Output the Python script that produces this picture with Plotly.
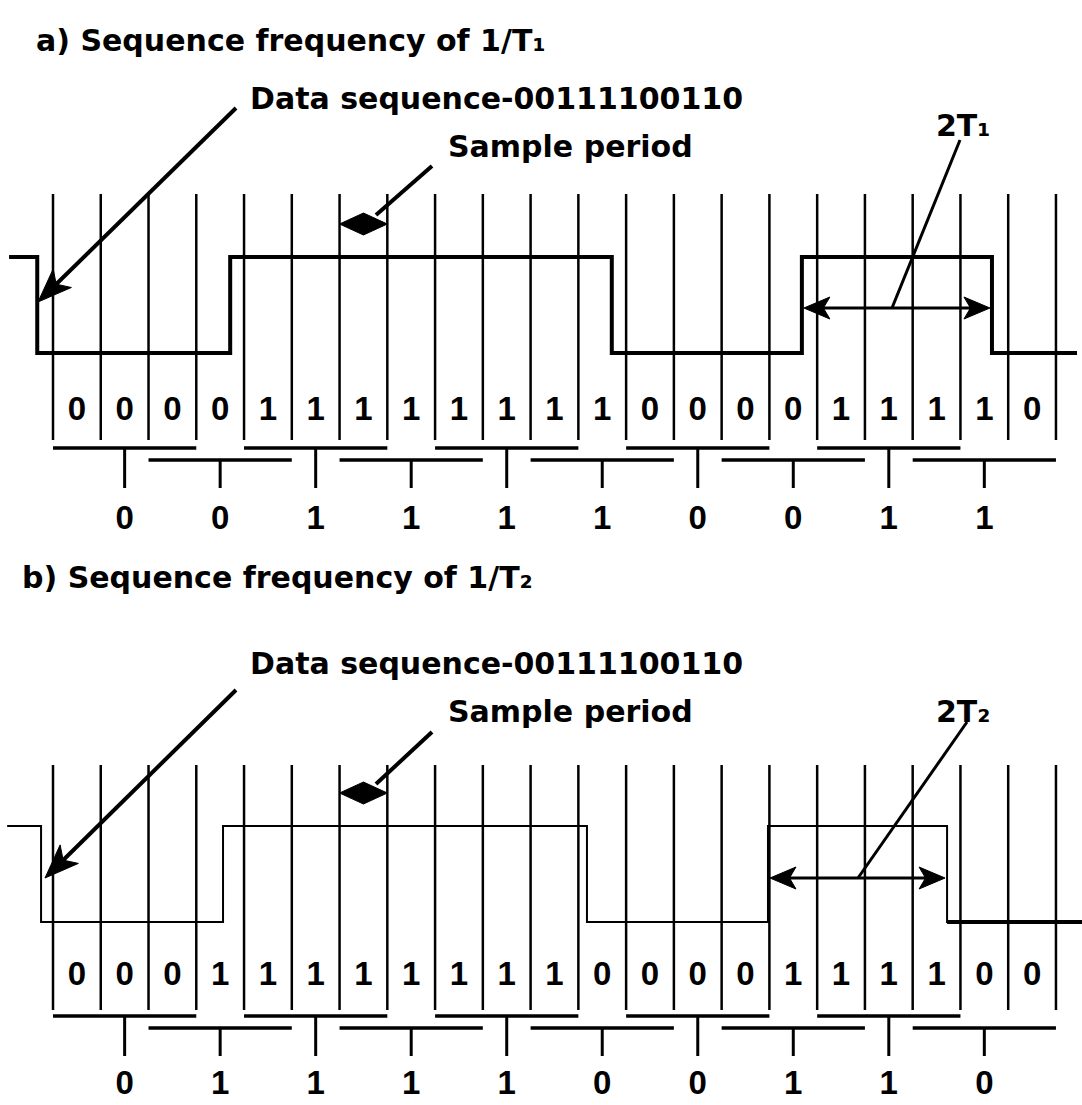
import math
import plotly.graph_objects as go

# ---- data -------------------------------------------------------------
# sample-period boundaries (vertical lines), in sample units
SAMPLE_EDGES = list(range(22))

# a) line signal at sequence frequency 1/T1
WAVE_A_EDGES = [-0.92, -0.33, 3.71, 11.70, 15.68, 19.66, 21.44]
WAVE_A_LEVELS = [1, 0, 1, 0, 1, 0]
SAMPLES_A = [0, 0, 0, 0, 1, 1, 1, 1, 1, 1, 1, 1, 0, 0, 0, 0, 1, 1, 1, 1, 0]
DECODED_A = [0, 0, 1, 1, 1, 1, 0, 0, 1, 1]

# b) line signal at sequence frequency 1/T2
WAVE_B_EDGES = [-0.96, -0.25, 3.56, 11.18, 14.97, 18.72, 21.55]
WAVE_B_LEVELS = [1, 0, 1, 0, 1, 0]
SAMPLES_B = [0, 0, 0, 1, 1, 1, 1, 1, 1, 1, 1, 0, 0, 0, 0, 1, 1, 1, 1, 0, 0]
DECODED_B = [0, 1, 1, 1, 1, 0, 0, 1, 1, 0]

# ---- layout constants ---------------------------------------------------
W, H = 1082, 1105
X0_PX, STEP_PX = 53.0, 47.76  # pixel of first sample boundary, pixels per sample
BLACK = "#000000"
TEXT_FONT = dict(family="DejaVu Sans", size=30, color=BLACK, weight="bold")
DIGIT_FONT = dict(family="Liberation Sans", size=33, color=BLACK, weight="bold")

PANELS = [
    dict(title="a) Sequence frequency of 1/T₁", title_x=36, title_y=43,
         label="2T₁", label_y=128, data_y=101, sample_y=149,
         edges=WAVE_A_EDGES, levels=WAVE_A_LEVELS, samples=SAMPLES_A, decoded=DECODED_A,
         high=257, low=353, wave_w=4, tail_w=4,
         grid_top=194, grid_bottom=440, digit_y=412,
         bar_hi=448, bar_lo=460, tick_bottom=488, decoded_y=521,
         data_tip=(38, 302), data_tail=(236, 108),
         sp_from=(432, 166), sp_to=(376, 215), diamond_y=224,
         span_y=308, leader_from=(892, 308), leader_to=(960, 140)),
    dict(title="b) Sequence frequency of 1/T₂", title_x=22, title_y=580,
         label="2T₂", label_y=714, data_y=666, sample_y=714,
         edges=WAVE_B_EDGES, levels=WAVE_B_LEVELS, samples=SAMPLES_B, decoded=DECODED_B,
         high=826, low=922, wave_w=2, tail_w=4,
         grid_top=765, grid_bottom=1010, digit_y=977,
         bar_hi=1016, bar_lo=1028, tick_bottom=1056, decoded_y=1086,
         data_tip=(45, 878), data_tail=(236, 690),
         sp_from=(432, 732), sp_to=(376, 784), diamond_y=793,
         span_y=878, leader_from=(858, 878), leader_to=(967, 722)),
]


def sx(px):
    """Pixel column -> sample units on the x axis."""
    return (px - X0_PX) / STEP_PX


def line(xs, ys, width):
    return go.Scatter(x=xs, y=ys, mode="lines", line=dict(color=BLACK, width=width),
                      hoverinfo="skip", showlegend=False)


def filled(xs, ys):
    return go.Scatter(x=xs, y=ys, mode="lines", fill="toself", fillcolor=BLACK,
                      line=dict(color=BLACK, width=1), hoverinfo="skip", showlegend=False)


def arrowhead(tip, tail, length, half):
    """Filled, slightly notched arrowhead at tip (pixel coords) pointing away from tail."""
    dx, dy = tip[0] - tail[0], tip[1] - tail[1]
    n = math.hypot(dx, dy)
    ux, uy = dx / n, dy / n
    px_, py_ = -uy, ux
    bx, by = tip[0] - ux * length, tip[1] - uy * length
    nx, ny = tip[0] - ux * length * 0.75, tip[1] - uy * length * 0.75
    pts = [tip, (bx + px_ * half, by + py_ * half), (nx, ny),
           (bx - px_ * half, by - py_ * half), tip]
    return filled([sx(p[0]) for p in pts], [p[1] for p in pts])


fig = go.Figure()

for p in PANELS:
    # sample-period grid
    gx, gy = [], []
    for e in SAMPLE_EDGES:
        gx += [e, e, None]
        gy += [p["grid_top"], p["grid_bottom"], None]
    fig.add_trace(line(gx, gy, 2.5))

    # waveform
    lev_px = [p["low"] - v * (p["low"] - p["high"]) for v in p["levels"]]
    fig.add_trace(go.Scatter(x=p["edges"], y=lev_px + [lev_px[-1]], mode="lines",
                             line=dict(color=BLACK, width=p["wave_w"], shape="hv"),
                             hoverinfo="skip", showlegend=False))
    fig.add_trace(line(p["edges"][-2:], [lev_px[-1], lev_px[-1]], p["tail_w"]))

    # sampled bits, one per sample cell
    fig.add_trace(go.Scatter(x=[e + 0.5 for e in SAMPLE_EDGES[:-1]],
                             y=[p["digit_y"]] * len(p["samples"]),
                             text=[str(b) for b in p["samples"]], mode="text",
                             textfont=DIGIT_FONT, hoverinfo="skip", showlegend=False))

    # majority-vote windows (3 samples each, staggered) and decoded bits
    bx, by, tx, ty, cx = [], [], [], [], []
    for i, bit in enumerate(p["decoded"]):
        c = SAMPLE_EDGES[1] + 0.5 + 2 * i
        yb = p["bar_hi"] if i % 2 == 0 else p["bar_lo"]
        bx += [c - 1.5, c + 1.5, None]
        by += [yb, yb, None]
        tx += [c, c, None]
        ty += [yb, p["tick_bottom"], None]
        cx.append(c)
    fig.add_trace(line(bx, by, 3.5))
    fig.add_trace(line(tx, ty, 3))
    fig.add_trace(go.Scatter(x=cx, y=[p["decoded_y"]] * len(cx),
                             text=[str(b) for b in p["decoded"]], mode="text",
                             textfont=DIGIT_FONT, hoverinfo="skip", showlegend=False))

    # "Sample period" marker: filled diamond spanning one sample cell
    d0, d1 = SAMPLE_EDGES[6], SAMPLE_EDGES[7]
    dm = (d0 + d1) / 2
    dy = p["diamond_y"]
    fig.add_trace(filled([d0, dm, d1, dm, d0], [dy, dy - 11, dy, dy + 11, dy]))
    fig.add_trace(line([sx(p["sp_from"][0]), sx(p["sp_to"][0])],
                       [p["sp_from"][1], p["sp_to"][1]], 4))

    # 2T leader
    fig.add_trace(line([sx(p["leader_from"][0]), sx(p["leader_to"][0])],
                       [p["leader_from"][1], p["leader_to"][1]], 3))

    # data-sequence arrow
    tip, tail = p["data_tip"], p["data_tail"]
    n = math.hypot(tip[0] - tail[0], tip[1] - tail[1])
    ux, uy = (tip[0] - tail[0]) / n, (tip[1] - tail[1]) / n
    fig.add_trace(line([sx(tail[0]), sx(tip[0] - ux * 20)], [tail[1], tip[1] - uy * 20], 4))
    fig.add_trace(arrowhead(tip, tail, 34, 13))

    # 2T double arrow across one high pulse
    x_start, x_end = p["edges"][4], p["edges"][5]
    ys = p["span_y"]
    fig.add_trace(line([x_start + 0.3, x_end - 0.3], [ys, ys], 3))
    px_start = X0_PX + x_start * STEP_PX
    px_end = X0_PX + x_end * STEP_PX
    fig.add_trace(arrowhead((px_start + 2, ys), (px_end, ys), 26, 11))
    fig.add_trace(arrowhead((px_end - 2, ys), (px_start, ys), 26, 11))

    # texts, left-anchored
    labels = [(p["title"], p["title_x"], p["title_y"]),
              ("Data sequence-00111100110", 250, p["data_y"]),
              ("Sample period", 448, p["sample_y"]),
              (p["label"], 936, p["label_y"])]
    fig.add_trace(go.Scatter(x=[sx(t[1]) for t in labels], y=[t[2] for t in labels],
                             text=[t[0] for t in labels], mode="text",
                             textposition="middle right", textfont=TEXT_FONT,
                             hoverinfo="skip", showlegend=False))

fig.update_layout(
    width=W, height=H,
    margin=dict(l=0, r=0, t=0, b=0),
    paper_bgcolor="white", plot_bgcolor="white",
    xaxis=dict(range=[sx(0), sx(W)], visible=False, fixedrange=True),
    yaxis=dict(range=[H, 0], visible=False, fixedrange=True),
    showlegend=False,
)

fig.write_html("out.html", config={"displayModeBar": False},
               post_script="document.body.style.margin='0';document.body.style.overflow='hidden';")
